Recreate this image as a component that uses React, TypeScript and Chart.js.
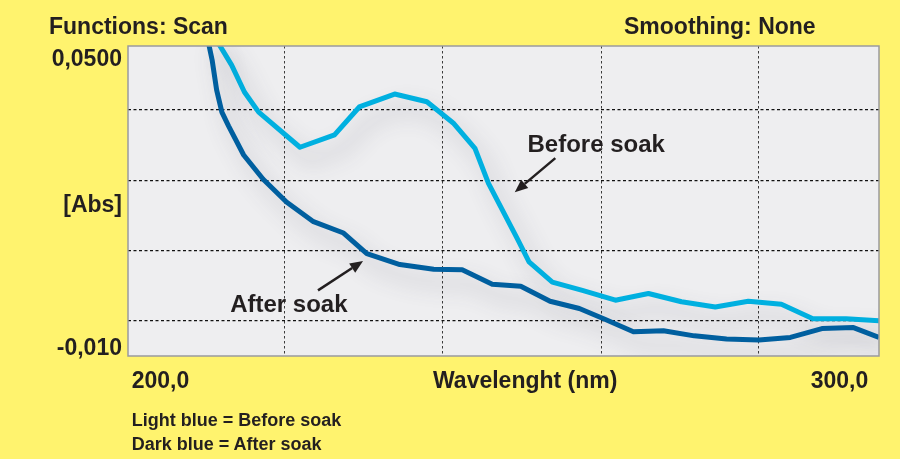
import React, { useEffect, useRef } from "react";
import { Chart, registerables } from "chart.js";

Chart.register(...registerables);

// ---- data (wavelength in nm, absorbance in Abs) ----
const beforeWavelength = [211.3, 213.8, 215.5, 217.4, 222.9, 227.5, 230.8, 235.5, 239.8, 243.3, 246.2, 248.0, 251.8, 253.4, 256.5, 260.5, 264.9, 269.3, 273.7, 278.2, 282.6, 287.0, 291.2, 295.6, 300.0];
const beforeAbs = [0.0523, 0.0463, 0.0411, 0.0372, 0.0304, 0.0328, 0.0382, 0.0407, 0.0392, 0.0351, 0.0302, 0.0234, 0.0128, 0.0082, 0.0043, 0.0027, 0.0008, 0.0021, 0.0005, -0.0005, 0.0006, 0.0, -0.0028, -0.0028, -0.0032];

const afterWavelength = [210.5, 211.2, 211.8, 212.5, 213.4, 215.4, 218.0, 221.1, 224.7, 228.7, 231.8, 236.2, 240.7, 244.5, 248.5, 252.3, 256.2, 260.1, 263.5, 267.3, 271.3, 275.4, 279.7, 284.0, 288.2, 292.4, 296.6, 300.0];
const afterAbs = [0.0521, 0.0473, 0.0415, 0.0372, 0.0345, 0.0289, 0.0242, 0.0198, 0.016, 0.0138, 0.0098, 0.0077, 0.0068, 0.0067, 0.0039, 0.0035, 0.0006, -0.0008, -0.0029, -0.0053, -0.0051, -0.0061, -0.0067, -0.0069, -0.0064, -0.0047, -0.0045, -0.0064];

const xGridValues = [220.9, 241.9, 263.0, 284.0];
const yGridValues = [-0.0032, 0.0103, 0.024, 0.0376];
const X_MIN = 200;
const X_MAX = 300;
const Y_MIN = -0.01;
const Y_MAX = 0.05;

const headerLeft = "Functions: Scan";
const headerRight = "Smoothing: None";
const yTopLabel = "0,0500";
const yUnitLabel = "[Abs]";
const yBottomLabel = "-0,010";
const xLeftLabel = "200,0";
const xRightLabel = "300,0";
const xTitle = "Wavelenght (nm)";
const legendLines = ["Light blue = Before soak", "Dark blue = After soak"];
const beforeName = "Before soak";
const afterName = "After soak";

const YELLOW = "#fff36e";
const TEXT = "#231f20";
const LIGHT_BLUE = "#00b0e0";
const DARK_BLUE = "#005f9f";
const FONT = '"Liberation Sans", Arial, Helvetica, sans-serif';

function Label(props: { text: string; x: number; baseline: number; size: number; align?: "left" | "right" }) {
  const { text, x, baseline, size, align = "left" } = props;
  const top = baseline - 0.8465 * size;
  const style: React.CSSProperties = {
    position: "absolute",
    top,
    fontSize: size,
    lineHeight: 1,
    whiteSpace: "nowrap",
  };
  if (align === "left") style.left = x;
  else style.right = 900 - x;
  return <span style={style}>{text}</span>;
}

export default function App() {
  const ref = useRef<HTMLCanvasElement | null>(null);

  useEffect(() => {
    if (!ref.current) return;

    const plotBackground = {
      id: "plotBackground",
      beforeDraw(chart: any) {
        const { ctx, chartArea: a } = chart;
        ctx.save();
        ctx.fillStyle = "#eeeef0";
        ctx.fillRect(a.left, a.top, a.right - a.left, a.bottom - a.top);
        ctx.restore();
      },
      afterDraw(chart: any) {
        const { ctx, chartArea: a } = chart;
        ctx.save();
        ctx.strokeStyle = "#9a9a9e";
        ctx.lineWidth = 1.5;
        ctx.strokeRect(a.left, a.top, a.right - a.left, a.bottom - a.top);
        ctx.restore();
      },
    };

    const lineShadow = {
      id: "lineShadow",
      beforeDatasetDraw(chart: any) {
        const ctx = chart.ctx;
        ctx.save();
        ctx.shadowColor = "rgba(70,70,90,0.3)";
        ctx.shadowBlur = 22;
        ctx.shadowOffsetX = 10;
        ctx.shadowOffsetY = 14;
      },
      afterDatasetDraw(chart: any) {
        chart.ctx.restore();
      },
    };

    const drawArrow = (ctx: CanvasRenderingContext2D, x1: number, y1: number, x2: number, y2: number) => {
      const ang = Math.atan2(y2 - y1, x2 - x1);
      const head = 13;
      const half = 5.5;
      const bx = x2 - head * Math.cos(ang);
      const by = y2 - head * Math.sin(ang);
      ctx.beginPath();
      ctx.moveTo(x1, y1);
      ctx.lineTo(bx, by);
      ctx.lineWidth = 2.5;
      ctx.stroke();
      ctx.beginPath();
      ctx.moveTo(x2, y2);
      ctx.lineTo(bx + half * Math.sin(ang), by - half * Math.cos(ang));
      ctx.lineTo(bx - half * Math.sin(ang), by + half * Math.cos(ang));
      ctx.closePath();
      ctx.fill();
    };

    const annotations = {
      id: "annotations",
      afterDatasetsDraw(chart: any) {
        const { ctx } = chart;
        const xs = chart.scales.x;
        const ys = chart.scales.y;
        const px = (v: number) => xs.getPixelForValue(v);
        const py = (v: number) => ys.getPixelForValue(v);
        ctx.save();
        ctx.fillStyle = TEXT;
        ctx.strokeStyle = TEXT;
        ctx.font = `bold 24px ${FONT}`;
        ctx.textBaseline = "alphabetic";
        ctx.textAlign = "left";
        ctx.fillText(beforeName, px(253.2), py(0.0295));
        ctx.fillText(afterName, px(213.6), py(-0.0015));
        drawArrow(ctx, px(256.9), py(0.0283), px(251.5), py(0.0217));
        drawArrow(ctx, px(225.3), py(0.0027), px(231.3), py(0.0084));
        ctx.restore();
      },
    };

    const chart = new Chart(ref.current, {
      type: "line",
      data: {
        datasets: [
          {
            label: afterName,
            data: afterWavelength.map((x, i) => ({ x, y: afterAbs[i] })),
            borderColor: DARK_BLUE,
            borderWidth: 5,
            pointRadius: 0,
            tension: 0,
            fill: false,
            borderJoinStyle: "round",
          },
          {
            label: beforeName,
            data: beforeWavelength.map((x, i) => ({ x, y: beforeAbs[i] })),
            borderColor: LIGHT_BLUE,
            borderWidth: 5,
            pointRadius: 0,
            tension: 0,
            fill: false,
            borderJoinStyle: "round",
          },
        ],
      },
      options: {
        animation: false,
        responsive: false,
        maintainAspectRatio: false,
        devicePixelRatio: 1,
        layout: { padding: { left: 128, top: 46, right: 21, bottom: 103 } },
        plugins: {
          legend: { display: false },
          tooltip: { enabled: false },
          title: { display: false },
        },
        events: [],
        scales: {
          x: {
            type: "linear",
            min: X_MIN,
            max: X_MAX,
            afterBuildTicks: (scale: any) => {
              scale.ticks = xGridValues.map((v) => ({ value: v }));
            },
            ticks: { display: false },
            grid: { color: "#3a3a3a", lineWidth: 1, drawTicks: false },
            border: { display: false, dash: [2.5, 2.5] },
          },
          y: {
            type: "linear",
            min: Y_MIN,
            max: Y_MAX,
            afterBuildTicks: (scale: any) => {
              scale.ticks = yGridValues.map((v) => ({ value: v }));
            },
            ticks: { display: false },
            grid: { color: "#111", lineWidth: 1.3, drawTicks: false },
            border: { display: false, dash: [3, 2.5] },
          },
        },
      },
      plugins: [plotBackground, lineShadow, annotations],
    } as any);

    return () => chart.destroy();
  }, []);

  return (
    <div
      style={{
        position: "fixed",
        left: 0,
        top: 0,
        width: 900,
        height: 459,
        background: YELLOW,
        overflow: "hidden",
        fontFamily: FONT,
        fontWeight: 700,
        color: TEXT,
      }}
    >
      <canvas ref={ref} width={900} height={459} style={{ position: "absolute", left: 0, top: 0, width: 900, height: 459 }} />
      <Label text={headerLeft} x={49} baseline={34.3} size={23} />
      <Label text={headerRight} x={624} baseline={34.3} size={23} />
      <Label text={yTopLabel} x={122} baseline={66.7} size={23} align="right" />
      <Label text={yUnitLabel} x={122} baseline={212} size={23} align="right" />
      <Label text={yBottomLabel} x={122} baseline={355} size={23} align="right" />
      <Label text={xLeftLabel} x={131.7} baseline={388.3} size={23} />
      <Label text={xTitle} x={433} baseline={388.3} size={23} />
      <Label text={xRightLabel} x={868.3} baseline={388.3} size={23} align="right" />
      <Label text={legendLines[0]} x={131.7} baseline={426.7} size={18} />
      <Label text={legendLines[1]} x={131.7} baseline={450} size={18} />
    </div>
  );
}
